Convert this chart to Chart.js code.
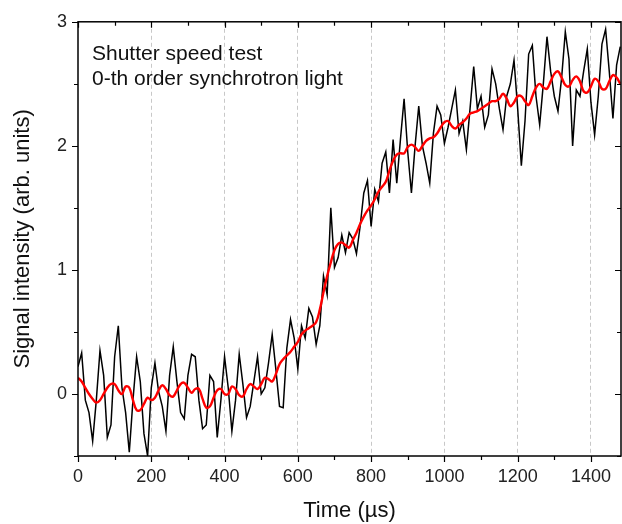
<!DOCTYPE html>
<html>
<head>
<meta charset="utf-8">
<script src="https://cdn.jsdelivr.net/npm/chart.js@4.4.1/dist/chart.umd.min.js"></script>
<style>
  html, body { margin: 0; padding: 0; background: #fff; }
  #chart { display: block; }
</style>
</head>
<body>
<canvas id="chart" width="622" height="524"></canvas>
<script>
const TIME_US = [
  0, 10, 20, 30, 40, 50, 60, 70, 80, 90, 100, 110, 120, 130, 140, 150, 160, 170, 180, 190,
  200, 210, 220, 230, 240, 250, 260, 270, 280, 290, 300, 310, 320, 330, 340, 350, 360, 370, 380, 390,
  400, 410, 420, 430, 440, 450, 460, 470, 480, 490, 500, 510, 520, 530, 540, 550, 560, 570, 580, 590,
  600, 610, 620, 630, 640, 650, 660, 670, 680, 690, 700, 710, 720, 730, 740, 750, 760, 770, 780, 790,
  800, 810, 820, 830, 840, 850, 860, 870, 880, 890, 900, 910, 920, 930, 940, 950, 960, 970, 980, 990,
  1000, 1010, 1020, 1030, 1040, 1050, 1060, 1070, 1080, 1090, 1100, 1110, 1120, 1130, 1140, 1150, 1160, 1170, 1180, 1190,
  1200, 1210, 1220, 1230, 1240, 1250, 1260, 1270, 1280, 1290, 1300, 1310, 1320, 1330, 1340, 1350, 1360, 1370, 1380, 1390,
  1400, 1410, 1420, 1430, 1440, 1450, 1460, 1470, 1480
];

// raw signal (black)
const RAW_SIGNAL = [
  0.22, 0.33, -0.05, -0.15, -0.38, -0.05, 0.35, 0.15, -0.35, -0.25, 0.30, 0.55, 0.05, -0.15, -0.47, -0.05, 0.30, 0.10, -0.32, -0.50,
  0.05, 0.25, 0.02, -0.10, -0.30, 0.15, 0.38, 0.10, -0.15, -0.20, 0.15, 0.32, 0.30, -0.05, -0.28, -0.25, 0.15, 0.10, -0.35, -0.05,
  0.30, 0.05, -0.30, -0.05, 0.32, 0.08, -0.19, -0.10, 0.10, 0.30, 0.00, 0.05, 0.25, 0.48, 0.20, -0.10, -0.11, 0.37, 0.60, 0.45,
  0.20, 0.55, 0.45, 0.69, 0.62, 0.40, 0.55, 0.95, 0.80, 1.50, 1.02, 1.10, 1.28, 1.14, 1.30, 1.25, 1.13, 1.35, 1.62, 1.72,
  1.35, 1.65, 1.55, 1.86, 1.95, 1.62, 2.05, 1.70, 2.05, 2.38, 1.95, 1.62, 2.00, 2.32, 2.00, 1.86, 1.70, 2.10, 2.32, 2.25,
  2.02, 2.15, 2.30, 2.45, 2.10, 2.20, 1.97, 2.30, 2.64, 2.30, 2.40, 2.15, 2.25, 2.62, 2.50, 2.30, 2.13, 2.40, 2.50, 2.69,
  2.30, 1.84, 2.20, 2.74, 2.81, 2.40, 2.17, 2.50, 2.88, 2.60, 2.40, 2.28, 2.55, 2.92, 2.70, 2.00, 2.45, 2.40, 2.60, 2.78,
  2.35, 2.09, 2.40, 2.82, 2.94, 2.60, 2.22, 2.65, 2.80
];

// smoothed signal (red)
const SMOOTH_SIGNAL = [
  0.13, 0.10, 0.05, 0.00, -0.04, -0.07, -0.05, 0.00, 0.05, 0.08, 0.08, 0.03, 0.00, 0.06, 0.05, -0.05, -0.13, -0.13, -0.08, -0.03,
  -0.05, -0.03, 0.03, 0.07, 0.04, -0.01, -0.02, 0.03, 0.08, 0.09, 0.05, 0.01, 0.04, 0.04, -0.04, -0.11, -0.10, -0.03, 0.03, 0.04,
  0.00, 0.00, 0.06, 0.04, -0.01, -0.02, 0.04, 0.08, 0.06, 0.04, 0.08, 0.13, 0.12, 0.10, 0.16, 0.24, 0.28, 0.31, 0.34, 0.38,
  0.42, 0.48, 0.51, 0.53, 0.55, 0.58, 0.68, 0.82, 0.95, 1.06, 1.16, 1.21, 1.22, 1.20, 1.18, 1.24, 1.30, 1.37, 1.43, 1.48,
  1.52, 1.57, 1.63, 1.67, 1.71, 1.80, 1.88, 1.93, 1.94, 1.94, 1.99, 2.01, 1.99, 1.96, 2.00, 2.04, 2.06, 2.07, 2.10, 2.15,
  2.19, 2.20, 2.16, 2.14, 2.17, 2.19, 2.22, 2.26, 2.27, 2.28, 2.30, 2.32, 2.34, 2.36, 2.36, 2.38, 2.42, 2.38, 2.32, 2.35,
  2.40, 2.40, 2.36, 2.33, 2.40, 2.47, 2.50, 2.47, 2.46, 2.52, 2.58, 2.60, 2.55, 2.49, 2.48, 2.53, 2.56, 2.52, 2.44, 2.43,
  2.48, 2.54, 2.52, 2.46, 2.46, 2.52, 2.57, 2.55, 2.50
];

const X_TICKS = [0, 100, 200, 300, 400, 500, 600, 700, 800, 900, 1000, 1100, 1200, 1300, 1400];
const Y_TICKS = [-0.5, 0, 0.5, 1, 1.5, 2, 2.5, 3];
const NOTE_LINES = ['Shutter speed test', '0-th order synchrotron light'];

const FONT = "'Liberation Sans', Arial, sans-serif";

function toPoints(ys) {
  return TIME_US.map((t, i) => ({ x: t, y: ys[i] }));
}

// frame, tick marks on all four sides, and the note in the corner
const framePlugin = {
  id: 'frame',
  afterDraw(chart) {
    const { ctx, chartArea: a, scales } = chart;
    ctx.save();
    ctx.strokeStyle = '#000';
    ctx.lineWidth = 1.5;
    ctx.strokeRect(a.left, a.top, a.right - a.left, a.bottom - a.top);

    ctx.lineWidth = 1.2;
    ctx.beginPath();
    X_TICKS.forEach(v => {
      const px = Math.round(scales.x.getPixelForValue(v)) + 0.5;
      const len = v % 200 === 0 ? 6 : 4;
      ctx.moveTo(px, a.bottom); ctx.lineTo(px, a.bottom + len);
      ctx.moveTo(px, a.top); ctx.lineTo(px, a.top + len);
    });
    Y_TICKS.forEach(v => {
      const py = Math.round(scales.y.getPixelForValue(v)) + 0.5;
      const len = Number.isInteger(v) ? 6 : 4;
      ctx.moveTo(a.left, py); ctx.lineTo(a.left - len, py);
      ctx.moveTo(a.right, py); ctx.lineTo(a.right - len, py);
    });
    ctx.stroke();

    ctx.fillStyle = '#111';
    ctx.font = '21px ' + FONT;
    ctx.textBaseline = 'alphabetic';
    ctx.fillText(NOTE_LINES[0], a.left + 14, a.top + 38);
    ctx.fillText(NOTE_LINES[1], a.left + 14, a.top + 63);
    ctx.restore();
  }
};

new Chart(document.getElementById('chart'), {
  type: 'line',
  data: {
    datasets: [
      {
        label: 'smoothed',
        data: toPoints(SMOOTH_SIGNAL),
        borderColor: '#ff0000',
        borderWidth: 2.4,
        pointRadius: 0,
        tension: 0.4,
        order: 0
      },
      {
        label: 'raw',
        data: toPoints(RAW_SIGNAL),
        borderColor: '#000',
        borderWidth: 1.5,
        pointRadius: 0,
        tension: 0,
        order: 1
      }
    ]
  },
  options: {
    responsive: false,
    animation: false,
    devicePixelRatio: 1,
    layout: { padding: { top: 18, right: 1, left: 0, bottom: 0 } },
    plugins: {
      legend: { display: false },
      tooltip: { enabled: false }
    },
    scales: {
      x: {
        type: 'linear',
        min: 0,
        max: 1482,
        afterFit: s => { s.height = 68; },
        afterBuildTicks: s => { s.ticks = X_TICKS.map(v => ({ value: v })); },
        ticks: {
          autoSkip: false,
          maxRotation: 0,
          padding: 10,
          color: '#222',
          font: { family: FONT, size: 18 },
          callback: v => (v % 200 === 0 ? v : '')
        },
        grid: {
          drawTicks: false,
          lineWidth: 1,
          color: c => (c.tick && c.tick.value % 200 === 0 && c.tick.value > 0 ? '#c8c8c8' : 'rgba(0,0,0,0)')
        },
        border: { display: false, dash: [4, 3] },
        title: {
          display: true,
          text: 'Time (\u00b5s)',
          color: '#111',
          font: { family: FONT, size: 22 },
          padding: { top: 2, bottom: 0 }
        }
      },
      y: {
        min: -0.5,
        max: 3,
        afterFit: s => { s.width = 78; },
        afterBuildTicks: s => { s.ticks = Y_TICKS.map(v => ({ value: v })); },
        ticks: {
          autoSkip: false,
          padding: 11,
          color: '#222',
          font: { family: FONT, size: 18 },
          callback: v => (Number.isInteger(v) ? v : '')
        },
        grid: { display: false, drawTicks: false },
        border: { display: false },
        title: {
          display: true,
          text: 'Signal intensity (arb. units)',
          color: '#111',
          font: { family: FONT, size: 22 },
          padding: { top: 10, bottom: 0 }
        }
      }
    }
  },
  plugins: [framePlugin]
});
</script>
</body>
</html>
